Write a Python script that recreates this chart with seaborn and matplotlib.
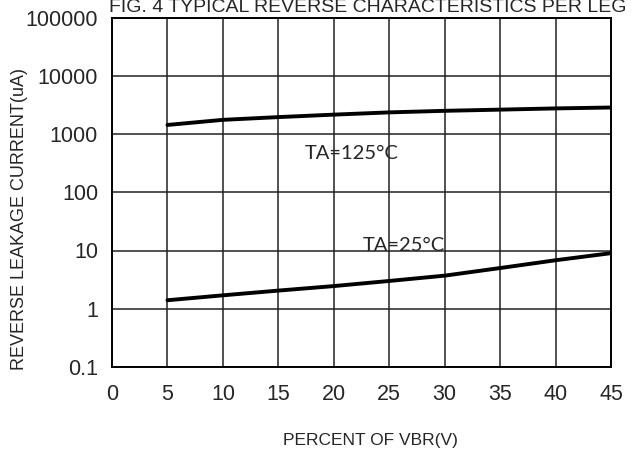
import numpy as np
import pandas as pd
import matplotlib
matplotlib.use("Agg")
import matplotlib.pyplot as plt
import seaborn as sns
from matplotlib.ticker import FixedLocator, NullLocator

# values (percent of VBR vs leakage current in uA)
pct_vbr = [5, 10, 15, 20, 25, 30, 35, 40, 45]
ir_125c = [1430, 1750, 1950, 2150, 2350, 2500, 2620, 2750, 2850]
ir_25c = [1.4, 1.7, 2.05, 2.45, 3.0, 3.7, 5.0, 6.8, 9.0]

x_ticks = [0, 5, 10, 15, 20, 25, 30, 35, 40, 45]
y_ticks = [0.1, 1, 10, 100, 1000, 10000, 100000]
y_labels = ["0.1", "1", "10", "100", "1000", "10000", "100000"]

df = pd.DataFrame({
    "pct": pct_vbr * 2,
    "ir": ir_125c + ir_25c,
    "temp": ["125"] * len(pct_vbr) + ["25"] * len(pct_vbr),
})

sns.set_style("white")
plt.rcParams["font.family"] = ["Liberation Sans", "DejaVu Sans"]

fig = plt.figure(figsize=(6.36, 4.55), dpi=100)
# plot box: left 112, right 611, top 17.5, bottom 367 (pixels)
ax = fig.add_axes([112 / 636, 1 - 367 / 455, 499 / 636, 349.5 / 455])

sns.lineplot(data=df, x="pct", y="ir", units="temp", estimator=None,
             color="black", linewidth=2.8, ax=ax, legend=False)

ax.set_yscale("log")
ax.set_xlim(0, 45)
ax.set_ylim(0.1, 100000)
ax.xaxis.set_major_locator(FixedLocator(x_ticks))
ax.yaxis.set_major_locator(FixedLocator(y_ticks))
ax.yaxis.set_minor_locator(NullLocator())
ax.set_yticklabels(y_labels)
ax.grid(True, which="major", color="#222222", linewidth=1.1)
ax.tick_params(length=0, labelsize=15.5)
ax.tick_params(axis="y", pad=10)
ax.tick_params(axis="x", pad=12)
for s in ax.spines.values():
    s.set_visible(True)
    s.set_color("black")
    s.set_linewidth(1.4)

ax.set_xlabel("")
ax.set_ylabel("")
# axis titles sit a bit off-centre in the reference, so place them on the figure
fig.text(370 / 636, 1 - 441 / 455, "PERCENT OF VBR(V)", fontsize=12.5,
         ha="center", va="center")
fig.text(20 / 636, 1 - 219 / 455, "REVERSE LEAKAGE CURRENT(uA)", fontsize=13,
         ha="center", va="center", rotation=90)

ax.text(21.6, 460, "TA=125°C", fontsize=14.5, ha="center", va="center",
        family=["Lato", "DejaVu Sans"])
ax.text(26.3, 12.2, "TA=25°C", fontsize=14.5, ha="center", va="center",
        family=["Lato", "DejaVu Sans"])

fig.text(368 / 636, 1 - 12.5 / 455, "FIG. 4 TYPICAL REVERSE CHARACTERISTICS PER LEG",
         fontsize=14, ha="center", va="baseline")

fig.savefig("out.png", dpi=100)
